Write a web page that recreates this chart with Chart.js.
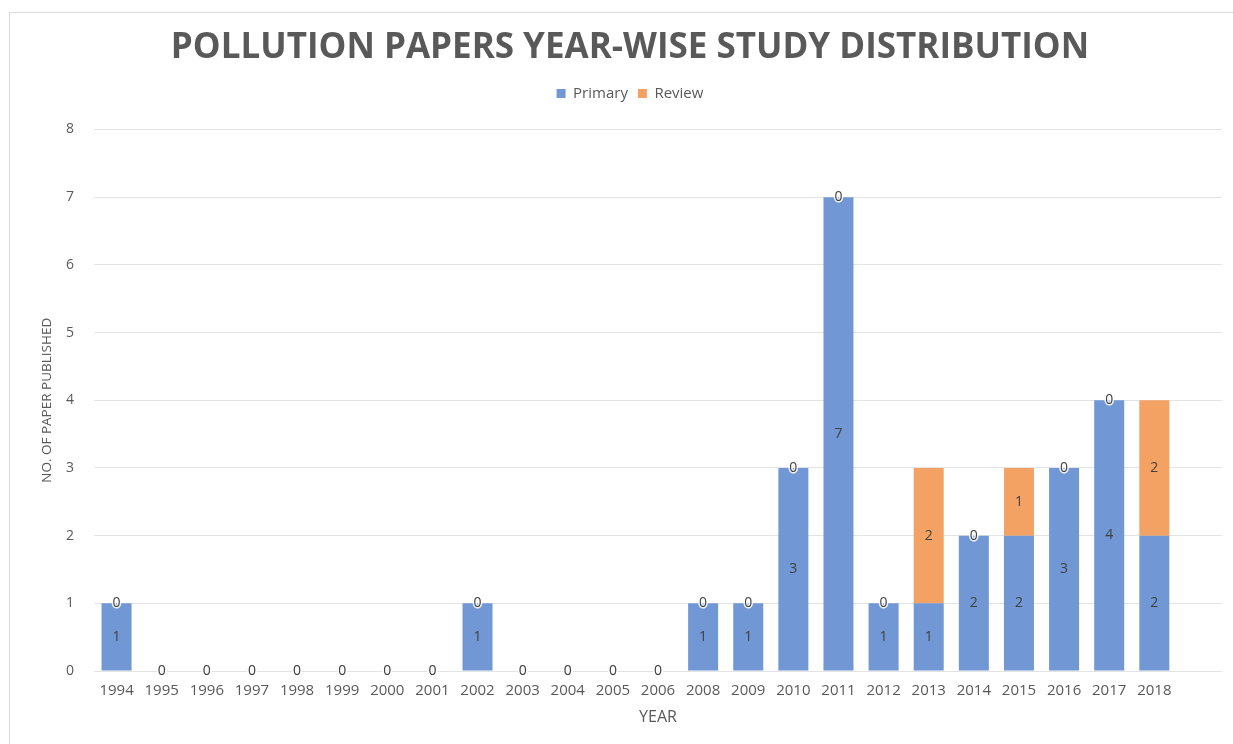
<!DOCTYPE html>
<html>
<head>
<meta charset="utf-8">
<script src="https://cdn.jsdelivr.net/npm/chart.js@4/dist/chart.umd.min.js"></script>
<style>
  html, body { margin: 0; padding: 0; background: #ffffff; overflow: hidden; }
  #frame { position: absolute; left: 9px; top: 12px; width: 1400px; height: 900px; border: 1px solid #d9d9d9; }
  #wrap { position: absolute; left: 0; top: 0; width: 1233px; height: 744px; }
</style>
</head>
<body>
<div id="frame"></div>
<div id="wrap"><canvas id="chart" width="1233" height="744"></canvas></div>
<script>
// Year-wise counts of pollution papers, split by study type
const years = ['1994', '1995', '1996', '1997', '1998', '1999', '2000', '2001', '2002', '2003', '2004', '2005', '2006',
               '2008', '2009', '2010', '2011', '2012', '2013', '2014', '2015', '2016', '2017', '2018', ''];
const primaryCounts = [1, 0, 0, 0, 0, 0, 0, 0, 1, 0, 0, 0, 0, 1, 1, 3, 7, 1, 1, 2, 2, 3, 4, 2, null];
const reviewCounts  = [0, 0, 0, 0, 0, 0, 0, 0, 0, 0, 0, 0, 0, 0, 0, 0, 0, 0, 2, 0, 1, 0, 0, 2, null];
const yTicks = [0, 1, 2, 3, 4, 5, 6, 7, 8];

const FONT = "'Open Sans', 'DejaVu Sans', sans-serif";
const GREY = '#595959';

// Writes each segment's value in the middle of its segment
const segmentLabels = {
  id: 'segmentLabels',
  afterDatasetsDraw(chart) {
    const ctx = chart.ctx;
    ctx.save();
    ctx.font = '14px ' + FONT;
    ctx.textAlign = 'center';
    ctx.textBaseline = 'middle';
    chart.data.datasets.forEach((ds, i) => {
      const meta = chart.getDatasetMeta(i);
      meta.data.forEach((bar, j) => {
        const v = ds.data[j];
        if (v === null || v === undefined) return;
        const p = bar.getProps(['x', 'y', 'base'], true);
        const cy = (p.y + p.base) / 2;
        if (v === 0) {
          ctx.lineWidth = 3;
          ctx.strokeStyle = 'rgba(255,255,255,0.85)';
          ctx.strokeText(String(v), p.x, cy);
        }
        ctx.fillStyle = '#404040';
        ctx.fillText(String(v), p.x, cy);
      });
    });
    ctx.restore();
  }
};

// Leaves room between the legend and the plot
const legendGap = {
  id: 'legendGap',
  beforeInit(chart) {
    const fit = chart.legend.fit;
    chart.legend.fit = function () {
      fit.call(this);
      this.height += 18.5;
    };
  }
};

new Chart(document.getElementById('chart'), {
  type: 'bar',
  data: {
    labels: years,
    datasets: [
      { label: 'Primary', data: primaryCounts, backgroundColor: '#7197d4', borderWidth: 0,
        barPercentage: 0.665, categoryPercentage: 1 },
      { label: 'Review', data: reviewCounts, backgroundColor: '#f4a264', borderWidth: 0,
        barPercentage: 0.665, categoryPercentage: 1 }
    ]
  },
  options: {
    responsive: false,
    animation: false,
    events: [],
    layout: { padding: { top: 16, left: 38, right: 11, bottom: 0 } },
    plugins: {
      title: {
        display: true,
        text: 'POLLUTION PAPERS YEAR-WISE STUDY DISTRIBUTION',
        color: GREY,
        font: { family: FONT, size: 35, weight: 'bold' },
        padding: { top: 11, bottom: 7 }
      },
      legend: {
        display: true,
        position: 'top',
        labels: {
          color: GREY,
          font: { family: FONT, size: 15 },
          boxWidth: 9,
          boxHeight: 9,
          padding: 10
        }
      },
      tooltip: { enabled: false }
    },
    scales: {
      x: {
        stacked: true,
        grid: { display: false, drawTicks: false },
        border: { display: false },
        ticks: { color: GREY, font: { family: FONT, size: 15 }, padding: 11, maxRotation: 0, autoSkip: false },
        title: { display: true, text: 'YEAR', color: GREY, font: { family: FONT, size: 16 }, padding: { top: 0, bottom: 17 } },
        afterFit(scale) { scale.height = 73; }
      },
      y: {
        stacked: true,
        min: 0,
        max: 8,
        afterBuildTicks(scale) { scale.ticks = yTicks.map(v => ({ value: v })); },
        grid: { color: '#e3e3e3', lineWidth: 1, drawTicks: false },
        border: { display: false },
        ticks: { color: GREY, font: { family: FONT, size: 14 }, padding: 20 },
        title: { display: true, text: 'NO. OF PAPER PUBLISHED', color: GREY, font: { family: FONT, size: 13.5 }, padding: { top: 1, bottom: 0 } },
        afterFit(scale) { scale.width = 56; }
      }
    }
  },
  plugins: [legendGap, segmentLabels]
});
</script>
</body>
</html>
